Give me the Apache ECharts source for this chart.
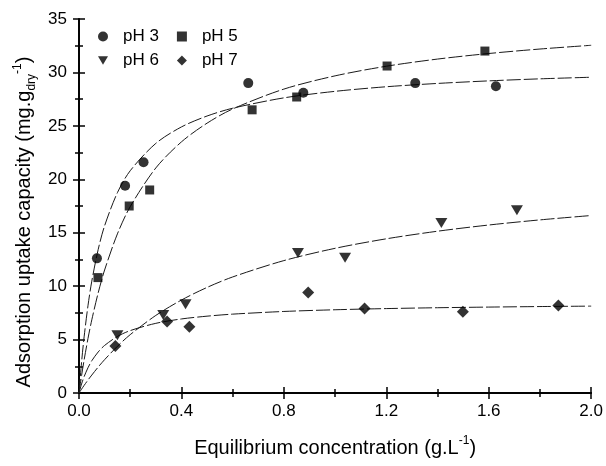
<!DOCTYPE html>
<html><head><meta charset="utf-8">
<script src="https://cdn.jsdelivr.net/npm/echarts@6/dist/echarts.min.js"></script>
<style>html,body{margin:0;padding:0;background:#fff}#c{width:606px;height:466px}</style>
</head><body><div id="c"></div>
<script>
// ---- data ----
const xTickLabels = ['0.0', '0.4', '0.8', '1.2', '1.6', '2.0'];
const yTickLabels = ['0', '5', '10', '15', '20', '25', '30', '35'];

const ph3X = [0.070, 0.180, 0.252, 0.661, 0.876, 1.313, 1.628];
const ph3Y = [12.6, 19.4, 21.6, 29.0, 28.1, 29.0, 28.7];
const ph5X = [0.074, 0.196, 0.276, 0.676, 0.850, 1.203, 1.585];
const ph5Y = [10.8, 17.5, 19.0, 26.5, 27.7, 30.6, 32.0];
const ph6X = [0.150, 0.329, 0.416, 0.855, 1.039, 1.415, 1.710];
const ph6Y = [5.4, 7.3, 8.3, 13.1, 12.65, 15.9, 17.1];
const ph7X = [0.142, 0.344, 0.431, 0.895, 1.115, 1.499, 1.872];
const ph7Y = [4.4, 6.7, 6.2, 9.4, 7.9, 7.6, 8.2];

// fitted curves
const fitX  = [0, 0.01, 0.02, 0.035, 0.05, 0.075, 0.1, 0.15, 0.2, 0.3, 0.4, 0.5, 0.6, 0.8, 1.0, 1.2, 1.4, 1.6, 1.8, 2.0];
const fit3Y = [0, 2.87, 5.25, 8.16, 10.47, 13.44, 15.65, 18.75, 20.80, 23.36, 24.90, 25.92, 26.65, 27.62, 28.23, 28.66, 28.97, 29.21, 29.40, 29.55];
const fit5Y = [0, 1.62, 3.09, 5.09, 6.85, 9.38, 11.51, 14.89, 17.44, 21.06, 23.50, 25.25, 26.58, 28.44, 29.68, 30.58, 31.25, 31.77, 32.19, 32.54];
const fit6Y = [0, 0.36, 0.71, 1.21, 1.68, 2.43, 3.12, 4.37, 5.46, 7.26, 8.70, 9.88, 10.86, 12.39, 13.54, 14.43, 15.14, 15.72, 16.20, 16.61];
const fit7Y = [0, 0.84, 1.53, 2.36, 3.02, 3.84, 4.45, 5.29, 5.84, 6.52, 6.93, 7.19, 7.38, 7.63, 7.79, 7.90, 7.98, 8.04, 8.09, 8.13];

// ---- chart ----
const FONT = "'Liberation Sans', Arial, sans-serif";
const TRI_DOWN = 'path://M0,0L12,0L6,10Z';
const zip = (xs, ys) => xs.map((x, i) => [x, ys[i]]);
const chart = echarts.init(document.getElementById('c'), null, { renderer: 'canvas' });

const axisLine = { show: true, lineStyle: { color: '#000', width: 1.5 } };
const tickStyle = { color: '#000', width: 1.5 };

function xAx(extra) {
  return Object.assign({
    type: 'value', min: 0, max: 2, interval: 0.4,
    axisLine: axisLine, splitLine: { show: false },
    axisLabel: { show: false }
  }, extra);
}
function yAx(extra) {
  return Object.assign({
    type: 'value', min: 0, max: 35, interval: 5,
    axisLine: axisLine, splitLine: { show: false },
    axisLabel: { show: false }
  }, extra);
}

const rich = {
  sup: { fontSize: 12, verticalAlign: 'top', lineHeight: 26, fontFamily: FONT, color: '#000' },
  sub: { fontSize: 12, verticalAlign: 'bottom', lineHeight: 26, fontFamily: FONT, color: '#000' }
};

const fitLine = (name, ys) => ({
  name: name, type: 'line', data: zip(fitX, ys), xAxisIndex: 0, yAxisIndex: 0,
  symbol: 'none', smooth: 0.3, silent: true, z: 2,
  lineStyle: { color: '#1a1a1a', width: 1, type: [14, 3] }
});
const scat = (name, xs, ys, symbol, size) => ({
  name: name, type: 'scatter', data: zip(xs, ys), xAxisIndex: 0, yAxisIndex: 0,
  symbol: symbol, symbolSize: size, z: 5,
  itemStyle: { color: '#000' }
});

const legendBase = {
  left: 93, itemWidth: 10, itemHeight: 10, itemGap: 18,
  textStyle: { fontSize: 17, color: '#000', fontFamily: FONT, padding: [0, 0, 0, 10] }
};

chart.setOption({
  animation: false,
  backgroundColor: '#fff',
  textStyle: { fontFamily: FONT },
  grid: { left: 79, right: 11, top: 19, bottom: 67 },
  legend: [
    Object.assign({ top: 23, data: ['pH 3', 'pH 5'] }, legendBase),
    Object.assign({ top: 47, data: [{ name: 'pH 6', icon: TRI_DOWN }, 'pH 7'] }, legendBase)
  ],
  xAxis: [
    xAx({ position: 'bottom',
      axisTick: { show: true, inside: false, length: 6, lineStyle: tickStyle },
      axisLabel: { show: true, fontSize: 17, color: '#000', margin: 10, fontFamily: FONT,
        formatter: v => xTickLabels[Math.round(v / 0.4)] },
      name: 'Equilibrium concentration (g.L{sup|-1})', nameLocation: 'middle', nameGap: 42,
      nameTextStyle: { fontSize: 20, color: '#000', fontFamily: FONT, lineHeight: 26, rich: rich } }),
    xAx({ position: 'bottom',
      axisTick: { show: true, inside: true, length: 6, lineStyle: tickStyle },
      minorTick: { show: true, splitNumber: 2, length: 4, lineStyle: tickStyle } }),
    xAx({ position: 'top',
      axisTick: { show: true, inside: true, length: 6, lineStyle: tickStyle },
      minorTick: { show: true, splitNumber: 2, length: 4, lineStyle: tickStyle } })
  ],
  yAxis: [
    yAx({ position: 'left',
      axisTick: { show: true, inside: false, length: 6, lineStyle: tickStyle },
      axisLabel: { show: true, fontSize: 17, color: '#000', margin: 12, fontFamily: FONT,
        formatter: v => yTickLabels[Math.round(v / 5)] },
      name: 'Adsorption uptake capacity (mg.g{sub|dry}{sup|-1})', nameLocation: 'middle', nameGap: 40,
      nameTextStyle: { fontSize: 20, color: '#000', fontFamily: FONT, lineHeight: 26, rich: rich,
        padding: [0, 32, 0, 0] } }),
    yAx({ position: 'left',
      axisTick: { show: true, inside: true, length: 6, lineStyle: tickStyle },
      minorTick: { show: true, splitNumber: 2, length: 4, lineStyle: tickStyle } }),
    yAx({ position: 'right',
      axisTick: { show: true, inside: true, length: 6, lineStyle: tickStyle },
      minorTick: { show: true, splitNumber: 2, length: 4, lineStyle: tickStyle } })
  ],
  series: [
    fitLine('fit pH 3', fit3Y),
    fitLine('fit pH 5', fit5Y),
    fitLine('fit pH 6', fit6Y),
    fitLine('fit pH 7', fit7Y),
    scat('pH 3', ph3X, ph3Y, 'circle', 10),
    scat('pH 5', ph5X, ph5Y, 'rect', 9),
    scat('pH 6', ph6X, ph6Y, TRI_DOWN, [12, 10]),
    scat('pH 7', ph7X, ph7Y, 'diamond', 12)
  ]
});
</script>
</body></html>
